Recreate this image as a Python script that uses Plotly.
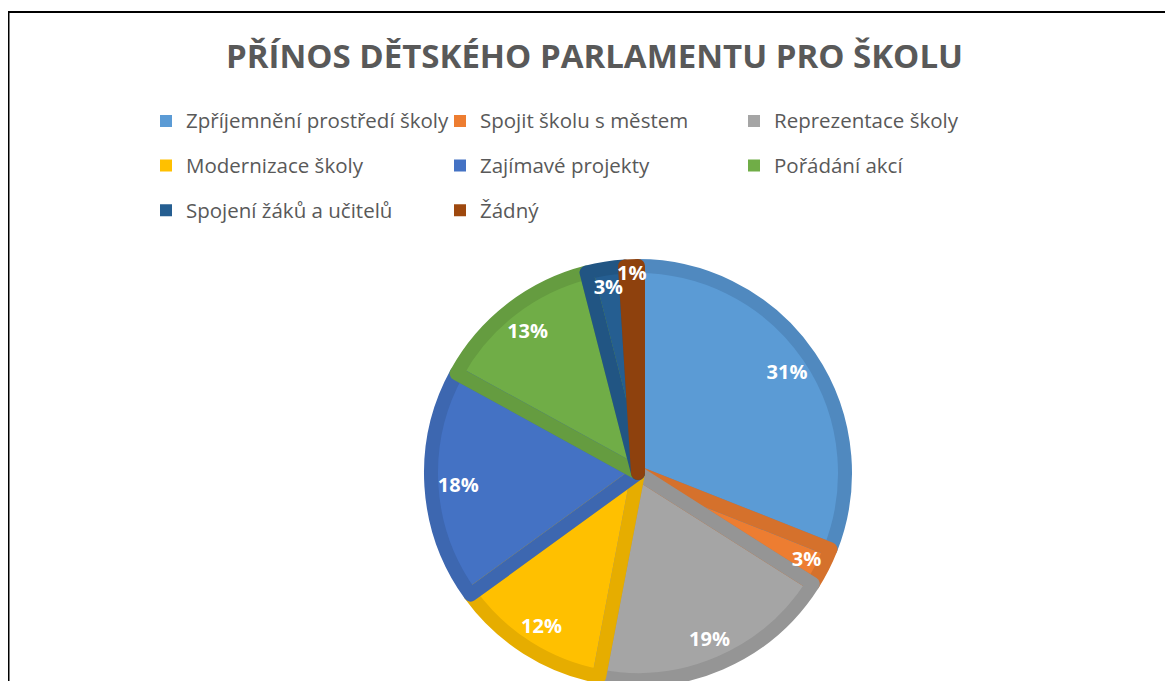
import plotly.graph_objects as go

categories = [
    "Zpříjemnění prostředí školy",
    "Spojit školu s městem",
    "Reprezentace školy",
    "Modernizace školy",
    "Zajímavé projekty",
    "Pořádání akcí",
    "Spojení žáků a učitelů",
    "Žádný",
]
values = [31, 3, 19, 12, 18, 13, 3, 1]
colors = ["#5B9BD5", "#ED7D31", "#A5A5A5", "#FFC000", "#4472C4", "#70AD47", "#255E91", "#9E480E"]
edge_colors = ["#5089BF", "#D5712C", "#959595", "#E6AD00", "#3D67B0", "#659C40", "#215583", "#8E410D"]
title_text = "PŘÍNOS DĚTSKÉHO PARLAMENTU PRO ŠKOLU"

# page body has an 8px margin: the figure starts at (8, 8) of the window
OFF = 8
W, H = 1173 - OFF, 681 - OFF
ML, MR = 0, 100
PW = W - ML - MR


def px(x):
    """window x -> paper fraction"""
    return (x - OFF - ML) / PW


def py(y):
    """window y -> paper fraction"""
    return 1 - (y - OFF) / H


EDGE = 14
R = 214 - EDGE / 2
cx, cy = 638, 473
dom_x = [px(cx) - 0.25, px(cx) + 0.25]
dom_y = [py(cy + R), py(cy - R)]

legend_labels = [
    f'<span style="font-size:20.5px;baseline-shift:5px">{c}</span>' for c in categories
]

fig = go.Figure()
# filled slices (also the legend)
fig.add_trace(go.Pie(
    labels=legend_labels,
    values=values,
    sort=False,
    direction="clockwise",
    rotation=0,
    marker=dict(colors=colors, line=dict(width=0)),
    textinfo="none",
    domain=dict(x=dom_x, y=dom_y),
    hoverinfo="label+percent",
))
# darker slice edges
fig.add_trace(go.Pie(
    labels=categories,
    values=values,
    sort=False,
    direction="clockwise",
    rotation=0,
    marker=dict(colors=["rgba(0,0,0,0)"] * len(values), line=dict(color=edge_colors, width=EDGE)),
    textinfo="none",
    domain=dict(x=dom_x, y=dom_y),
    showlegend=False,
    hoverinfo="skip",
))
# percentage labels placed in the outer ring
fig.add_trace(go.Pie(
    labels=categories,
    values=values,
    sort=False,
    direction="clockwise",
    rotation=0,
    hole=0.74,
    marker=dict(colors=["rgba(0,0,0,0)"] * len(values), line=dict(width=0)),
    textinfo="percent",
    texttemplate="%{percent:.0%}",
    textposition="inside",
    insidetextorientation="horizontal",
    textfont=dict(family="Open Sans", size=20, color="white", weight="bold"),
    domain=dict(x=dom_x, y=dom_y),
    showlegend=False,
    hoverinfo="skip",
))

fig.update_layout(
    width=W, height=H,
    margin=dict(l=ML, r=MR, t=0, b=0),
    paper_bgcolor="white",
    plot_bgcolor="white",
    title=dict(
        text=title_text,
        x=(594.5 - OFF) / W, xref="container", xanchor="center",
        y=1 - (56 - OFF) / H, yref="container", yanchor="middle",
        font=dict(family="Open Sans", size=33, color="#595959", weight="bold"),
    ),
    legend=dict(
        orientation="h",
        x=px(146), xanchor="left",
        y=py(93.7), yanchor="top",
        entrywidth=249,
        font=dict(family="Open Sans", size=32, color="#595959"),
        bgcolor="rgba(0,0,0,0)",
        traceorder="normal",
    ),
    uniformtext=dict(minsize=20, mode="show"),
    shapes=[dict(
        type="rect", xref="paper", yref="paper",
        x0=px(8.5), x1=px(1173 + 20), y0=py(681 + 20), y1=py(12),
        line=dict(color="black", width=2), fillcolor="rgba(0,0,0,0)",
        layer="above",
    )],
)

fig.write_html("out.html")
